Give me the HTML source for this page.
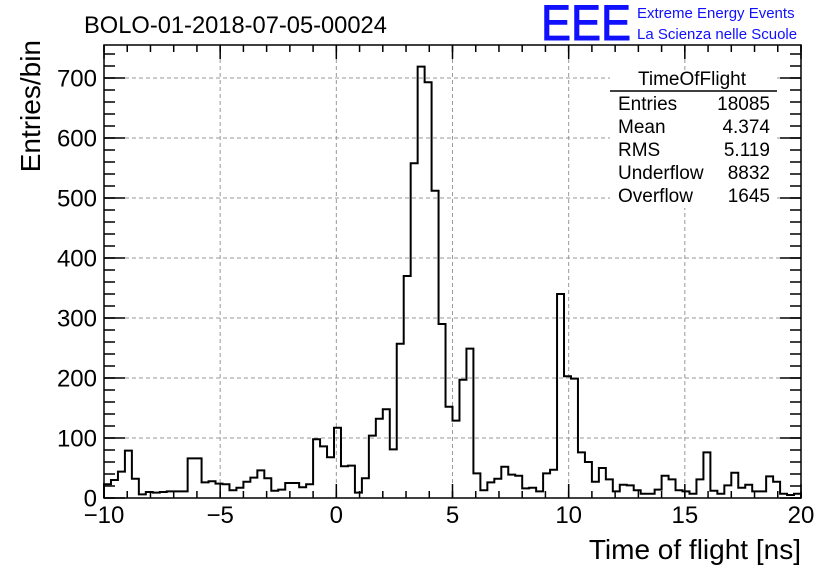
<!DOCTYPE html>
<html><head><meta charset="utf-8"><style>
body{margin:0;background:#fff;}
svg{display:block;font-family:"Liberation Sans",sans-serif;}
</style></head><body>
<svg id="c" width="836" height="572">
<text x="84" y="33" font-size="23.7">BOLO-01-2018-07-05-00024</text>
<text x="541" y="40" font-size="50" fill="#1010ff" stroke="#1010ff" stroke-width="1" textLength="90" lengthAdjust="spacingAndGlyphs">EEE</text>
<text x="637" y="18" font-size="15" fill="#1010ff">Extreme Energy Events</text>
<text x="637" y="39" font-size="15" fill="#1010ff">La Scienza nelle Scuole</text>
<g id="grid"></g><g id="axes"></g>
<path id="hist" fill="none" stroke="#000" stroke-width="2"></path>
<rect x="104" y="45" width="697" height="453" fill="none" stroke="#000" stroke-width="1.5"/>
<g>
<rect x="610" y="70" width="167" height="138" fill="#fff"/>
<text x="692" y="85" font-size="19" text-anchor="middle">TimeOfFlight</text>
<line x1="610" y1="91" x2="777" y2="91" stroke="#000" stroke-width="1.5"/>
<g id="stats" font-size="19"></g>
</g>
<text x="801" y="559" font-size="28" text-anchor="end">Time of flight [ns]</text>
<text transform="translate(40,40) rotate(-90)" font-size="28" text-anchor="end">Entries/bin</text>
</svg>
<script>
const counts=[23,30,44,79,32,6,10,9,10,11,11,11,66,66,26,28,24,23,13,17,27,34,46,33,12,14,25,25,18,23,98,86,68,117,53,54,9,33,104,132,148,81,257,370,558,719,693,512,290,152,129,197,249,41,13,26,32,52,39,37,16,17,11,41,47,340,203,199,76,60,27,50,31,11,22,21,13,7,7,14,37,31,13,11,7,31,76,12,7,21,42,17,22,11,11,36,27,7,5,7];
const xTicks=[-10,-5,0,5,10,15,20];
const yTicks=[0,100,200,300,400,500,600,700];
const statLabels=["Entries","Mean","RMS","Underflow","Overflow"];
const statValues=["18085","4.374","5.119","8832","1645"];
const xMin=-10,xMax=20,yMax=755;
const L=104,R=801,T=45,B=498;
const sx=v=>L+(v-xMin)/(xMax-xMin)*(R-L);
const sy=v=>B-v/yMax*(B-T);
const NS="http://www.w3.org/2000/svg";
function mk(t,a,p){const e=document.createElementNS(NS,t);for(const k in a)e.setAttribute(k,a[k]);p.appendChild(e);return e;}
const grid=document.getElementById('grid'),axes=document.getElementById('axes');
xTicks.forEach(v=>{const x=sx(v);
 if(v>xMin&&v<xMax){const g=mk('line',{x1:x,x2:x,y1:T,y2:B,stroke:'#999','stroke-dasharray':'4,3'},grid);}
 mk('line',{x1:x,x2:x,y1:B,y2:B-14,stroke:'#000','stroke-width':1.5},axes);
 mk('line',{x1:x,x2:x,y1:T,y2:T+14,stroke:'#000','stroke-width':1.5},axes);
 const t=mk('text',{x:x,y:523,'font-size':24,'text-anchor':'middle'},axes);t.textContent=v<0?'\u2212'+(-v):v;
 
 
});
for(let v=xMin;v<=xMax;v+=1){const x=sx(v);mk('line',{x1:x,x2:x,y1:B,y2:B-7,stroke:'#000','stroke-width':1.5},axes);mk('line',{x1:x,x2:x,y1:T,y2:T+7,stroke:'#000','stroke-width':1.5},axes);}
yTicks.forEach(v=>{const y=sy(v);
 if(v>0){const g=mk('line',{x1:L,x2:R,y1:y,y2:y,stroke:'#999','stroke-dasharray':'4,3'},grid);}
 mk('line',{x1:L,x2:L+21,y1:y,y2:y,stroke:'#000','stroke-width':1.5},axes);
 mk('line',{x1:R,x2:R-21,y1:y,y2:y,stroke:'#000','stroke-width':1.5},axes);
 const t=mk('text',{x:97,y:y+8.5,'font-size':24,'text-anchor':'end'},axes);t.textContent=v;
 
 
});
for(let v=0;v<=yMax;v+=20){const y=sy(v);mk('line',{x1:L,x2:L+11,y1:y,y2:y,stroke:'#000','stroke-width':1.5},axes);mk('line',{x1:R,x2:R-11,y1:y,y2:y,stroke:'#000','stroke-width':1.5},axes);}
const bw=(xMax-xMin)/counts.length;
let d='M'+sx(xMin)+','+sy(0);
counts.forEach((c,i)=>{d+=' L'+sx(xMin+i*bw)+','+sy(c)+' L'+sx(xMin+(i+1)*bw)+','+sy(c);});
d+=' L'+sx(xMax)+','+sy(0);
document.getElementById('hist').setAttribute('d',d);
const st=document.getElementById('stats');
statLabels.forEach((l,i)=>{const y=110+i*23;
 const a=mk('text',{x:618,y:y},st);a.textContent=l;
 
 
 const b=mk('text',{x:770,y:y,'text-anchor':'end'},st);b.textContent=statValues[i];
 
 
});
</script>
</body></html>
